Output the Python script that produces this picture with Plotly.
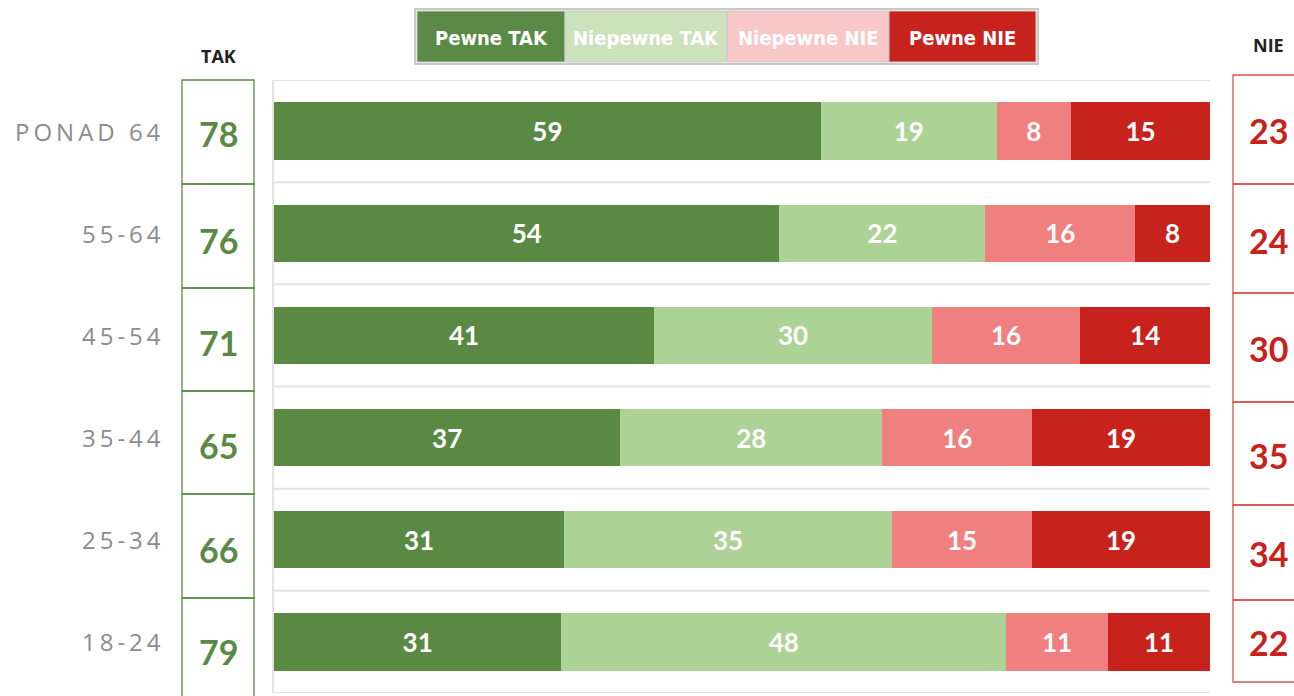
import plotly.graph_objects as go

W, H = 1294, 696

# ---- data ----
categories = ["PONAD 64", "55-64", "45-54", "35-44", "25-34", "18-24"]
pewne_tak = [59, 54, 41, 37, 31, 31]
niepewne_tak = [19, 22, 30, 28, 35, 48]
niepewne_nie = [8, 16, 16, 16, 15, 11]
pewne_nie = [15, 8, 14, 19, 19, 11]
series_names = ["Pewne TAK", "Niepewne TAK", "Niepewne NIE", "Pewne NIE"]

tak_totals = [a + b for a, b in zip(pewne_tak, niepewne_tak)]
nie_totals = [a + b for a, b in zip(niepewne_nie, pewne_nie)]

# ---- style ----
bar_colors = ["#5A8944", "#ADD295", "#F08080", "#C8221D"]
legend_colors = ["#5A8A45", "#CCE2BC", "#F8C7C7", "#C8221D"]
GREEN = "#5A8A45"
RED = "#C8221D"
NUM_FONT = "Lato, Carlito, 'Open Sans', sans-serif"


def px(x):
    return x / W


def py(y):
    return 1 - y / H


def spaced(s):
    return "\u2009".join(list(s))


fig = go.Figure()
for name, vals, col in zip(series_names,
                           [pewne_tak, niepewne_tak, niepewne_nie, pewne_nie],
                           bar_colors):
    fig.add_trace(go.Bar(
        y=categories, x=vals, orientation="h", name=name,
        marker=dict(color=col, line=dict(width=0)),
        text=vals, texttemplate="%{text}", textposition="inside",
        insidetextanchor="middle", textangle=0,
        textfont=dict(family=NUM_FONT, size=26, color="white", weight="bold"),
        width=0.56, showlegend=False, hoverinfo="skip",
    ))

shapes = []
annotations = []


def ann(x, y, text, font, xref="paper", yref="paper", xanchor="center"):
    annotations.append(dict(xref=xref, yref=yref, x=x, y=y, text=text,
                            showarrow=False, xanchor=xanchor,
                            yanchor="middle", font=font))


# grid lines between categories
for k in range(len(categories) + 1):
    shapes.append(dict(type="line", xref="x", yref="y", x0=0, x1=100,
                       y0=k - 0.5, y1=k - 0.5,
                       line=dict(color="#E3E3E3", width=2), layer="below"))

# category labels
for c in categories:
    ann(px(163), c, spaced(c),
        dict(family="'Open Sans', sans-serif", size=24, color="#8C8C8C",
             weight=400),
        yref="y", xanchor="right")

# TAK boxes
tak_edges = [80, 184, 288, 391, 494, 598, 710]
tak_text_y = [133, 240, 342, 445, 549, 651]
for i, v in enumerate(tak_totals):
    y0, y1 = tak_edges[i], tak_edges[i + 1]
    shapes.append(dict(type="rect", xref="paper", yref="paper",
                       x0=px(182), x1=px(254), y0=py(y1), y1=py(y0),
                       line=dict(color=GREEN, width=1.3)))
    ann(px(218), py(tak_text_y[i]), str(v),
        dict(family=NUM_FONT, size=34, color=GREEN, weight="bold"))

# NIE boxes
nie_edges = [75, 184, 293, 402, 505, 600, 682]
nie_text_y = [131, 240, 349, 455, 553, 642]
for i, v in enumerate(nie_totals):
    y0, y1 = nie_edges[i], nie_edges[i + 1]
    shapes.append(dict(type="rect", xref="paper", yref="paper",
                       x0=px(1233), x1=px(1310), y0=py(y1), y1=py(y0),
                       line=dict(color="#D9534F", width=1.3)))
    ann(px(1268), py(nie_text_y[i]), str(v),
        dict(family=NUM_FONT, size=34, color=RED, weight="bold"))

# headers
ann(px(218), py(56), "TAK",
    dict(family="'Open Sans', sans-serif", size=18, color="#222222",
         weight="bold"))
ann(px(1268), py(45), "NIE",
    dict(family="'Open Sans', sans-serif", size=18, color="#222222",
         weight="bold"))

# custom legend
shapes.append(dict(type="rect", xref="paper", yref="paper",
                   x0=px(415), x1=px(1038), y0=py(64), y1=py(9),
                   line=dict(color="#C8C8C8", width=2), fillcolor="white"))
leg_edges = [417, 565, 727, 889, 1036]
for i, (name, col) in enumerate(zip(series_names, legend_colors)):
    x0, x1 = leg_edges[i], leg_edges[i + 1]
    shapes.append(dict(type="rect", xref="paper", yref="paper",
                       x0=px(x0), x1=px(x1), y0=py(62), y1=py(11),
                       line=dict(color="#C8C8C8", width=1), fillcolor=col))
    ann(px((x0 + x1) / 2), py(38), name,
        dict(family="'DejaVu Sans Condensed', 'Liberation Sans Narrow', sans-serif",
             size=20, color="white", weight="bold"))

fig.update_layout(
    width=W, height=H,
    margin=dict(l=0, r=0, t=0, b=0),
    paper_bgcolor="white", plot_bgcolor="white",
    barmode="stack", barnorm="percent", bargap=0.44,
    xaxis=dict(domain=[px(274), px(1210)], range=[0, 100], visible=False,
               fixedrange=True),
    yaxis=dict(domain=[py(693), py(80)], categoryorder="array",
               categoryarray=categories[::-1], range=[-0.5, 5.5],
               showticklabels=False, showgrid=False, zeroline=False,
               showline=True, linecolor="#E3E3E3", linewidth=2,
               fixedrange=True),
    shapes=shapes, annotations=annotations,
    showlegend=False,
)

fig.write_html(
    "out.html",
    config={"displayModeBar": False},
    post_script="document.body.style.margin='0';"
                "document.body.style.overflow='hidden';",
)
